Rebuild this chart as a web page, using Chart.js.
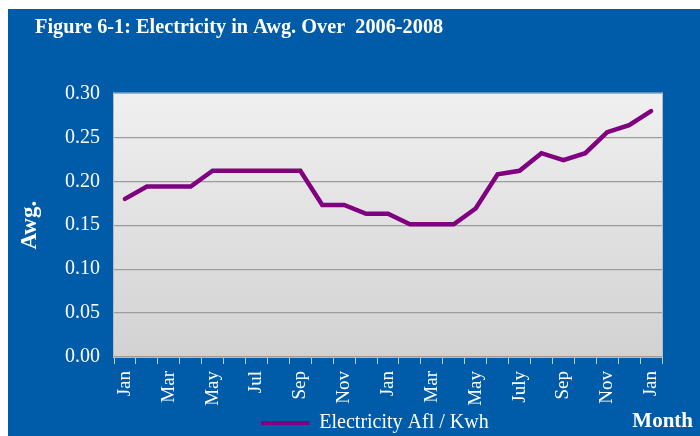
<!DOCTYPE html>
<html>
<head>
<meta charset="utf-8">
<script src="https://cdn.jsdelivr.net/npm/chart.js@4.4.1/dist/chart.umd.min.js"></script>
<style>
  html, body { margin: 0; padding: 0; background: #ffffff; width: 700px; height: 436px; overflow: hidden; }
  #wrap { position: absolute; left: 8px; top: 9px; width: 692px; height: 427px; background: #005ba9; }
  canvas { display: block; }
</style>
</head>
<body>
<div id="wrap"><canvas id="c" width="692" height="427"></canvas></div>
<script>
// ---- data ----
const titleText = 'Figure 6-1: Electricity in Awg. Over  2006-2008';
const months = ['Jan','Feb','Mar','Apr','May','Jun','Jul','Aug','Sep','Oct','Nov','Dec',
                'Jan','Feb','Mar','Apr','May','Jun','July','Aug','Sep','Oct','Nov','Dec','Jan'];
const seriesName = 'Electricity Afl / Kwh';
const electricity = [0.180, 0.194, 0.194, 0.194, 0.212, 0.212, 0.212, 0.212, 0.212, 0.173, 0.173, 0.163,
                     0.163, 0.151, 0.151, 0.151, 0.169, 0.208, 0.212, 0.232, 0.224, 0.232, 0.256, 0.264, 0.280];
const yTicks = [0, 0.05, 0.10, 0.15, 0.20, 0.25, 0.30];
const yTitle = 'Awg.';
const xTitle = 'Month';

const SERIF = '"Liberation Serif", "Times New Roman", serif';
const PURPLE = '#800080';

const decor = {
  id: 'decor',
  afterLayout(chart) {
    const t = chart.titleBlock;
    if (t) { t.left += 27; t.right += 27; }
    const l = chart.legend;
    if (l) { l.left += 40; l.right += 40; }
  },
  beforeDraw(chart) {
    const {ctx, chartArea: a} = chart;
    ctx.save();
    const g = ctx.createLinearGradient(0, a.top, 0, a.bottom);
    g.addColorStop(0, '#f0f0f0');
    g.addColorStop(1, '#d2d2d2');
    ctx.fillStyle = g;
    ctx.fillRect(a.left, a.top, a.right - a.left, a.bottom - a.top);
    ctx.restore();
  },
  afterDraw(chart) {
    const {ctx, chartArea: a} = chart;
    ctx.save();
    ctx.strokeStyle = '#b4bccb';
    ctx.lineWidth = 1;
    ctx.strokeRect(a.left - 0.5, a.top - 0.5, a.right - a.left + 1, a.bottom - a.top + 1);
    ctx.fillStyle = '#ffffff';
    ctx.font = 'bold 21px ' + SERIF;
    ctx.textAlign = 'right';
    ctx.textBaseline = 'middle';
    ctx.fillText(xTitle, 685, 413);
    ctx.restore();
  }
};

new Chart(document.getElementById('c'), {
  type: 'line',
  data: {
    labels: months,
    datasets: [{
      label: seriesName,
      data: electricity,
      borderColor: PURPLE,
      backgroundColor: PURPLE,
      borderWidth: 4.5,
      borderCapStyle: 'round',
      pointRadius: 0,
      pointHoverRadius: 0,
      tension: 0,
      fill: false
    }]
  },
  options: {
    responsive: false,
    animation: false,
    devicePixelRatio: 1,
    layout: { padding: { left: 0, right: 38, top: 0, bottom: -7 } },
    plugins: {
      title: {
        display: true,
        text: titleText,
        align: 'start',
        color: '#ffffff',
        font: { family: SERIF, size: 20.3, weight: 'bold', lineHeight: 1.2 },
        padding: { top: 6.8, bottom: 53.3 }
      },
      legend: {
        display: true,
        position: 'bottom',
        labels: {
          color: '#ffffff',
          font: { family: SERIF, size: 20 },
          boxWidth: 48,
          boxHeight: 4,
          padding: 4,
          generateLabels(chart) {
            const items = Chart.defaults.plugins.legend.labels.generateLabels(chart);
            items.forEach(it => { it.lineWidth = 0; it.fillStyle = PURPLE; it.strokeStyle = PURPLE; });
            return items;
          }
        }
      },
      tooltip: { enabled: false }
    },
    scales: {
      x: {
        type: 'category',
        offset: true,
        afterFit(scale) { scale.height = 52; },
        grid: {
          offset: true,
          drawOnChartArea: false,
          drawTicks: true,
          tickLength: 7,
          color: '#c4c9d2'
        },
        border: { display: true, color: '#a0a0a0', width: 1 },
        ticks: {
          autoSkip: false,
          minRotation: 90,
          maxRotation: 90,
          padding: 7,
          color: '#ffffff',
          font: { family: SERIF, size: 19 },
          callback(value, index) { return index % 2 === 0 ? months[index] : ''; }
        }
      },
      y: {
        min: yTicks[0],
        max: yTicks[yTicks.length - 1],
        afterFit(scale) { scale.width = 106; },
        afterBuildTicks(scale) { scale.ticks = yTicks.map(v => ({ value: v })); },
        grid: {
          drawTicks: false,
          lineWidth: 1.3,
          color(ctx) { return ctx.tick && ctx.tick.value >= 0.299 ? 'rgba(0,0,0,0)' : '#9c9c9c'; }
        },
        border: { display: false },
        ticks: {
          padding: 14,
          color: '#ffffff',
          font: { family: SERIF, size: 20 },
          callback(value) { return Number(value).toFixed(2); }
        },
        title: {
          display: true,
          text: yTitle,
          color: '#ffffff',
          font: { family: SERIF, size: 23, weight: 'bold', lineHeight: 1.2 },
          padding: { top: 8, bottom: 0 }
        }
      }
    }
  },
  plugins: [decor]
});
</script>
</body>
</html>
